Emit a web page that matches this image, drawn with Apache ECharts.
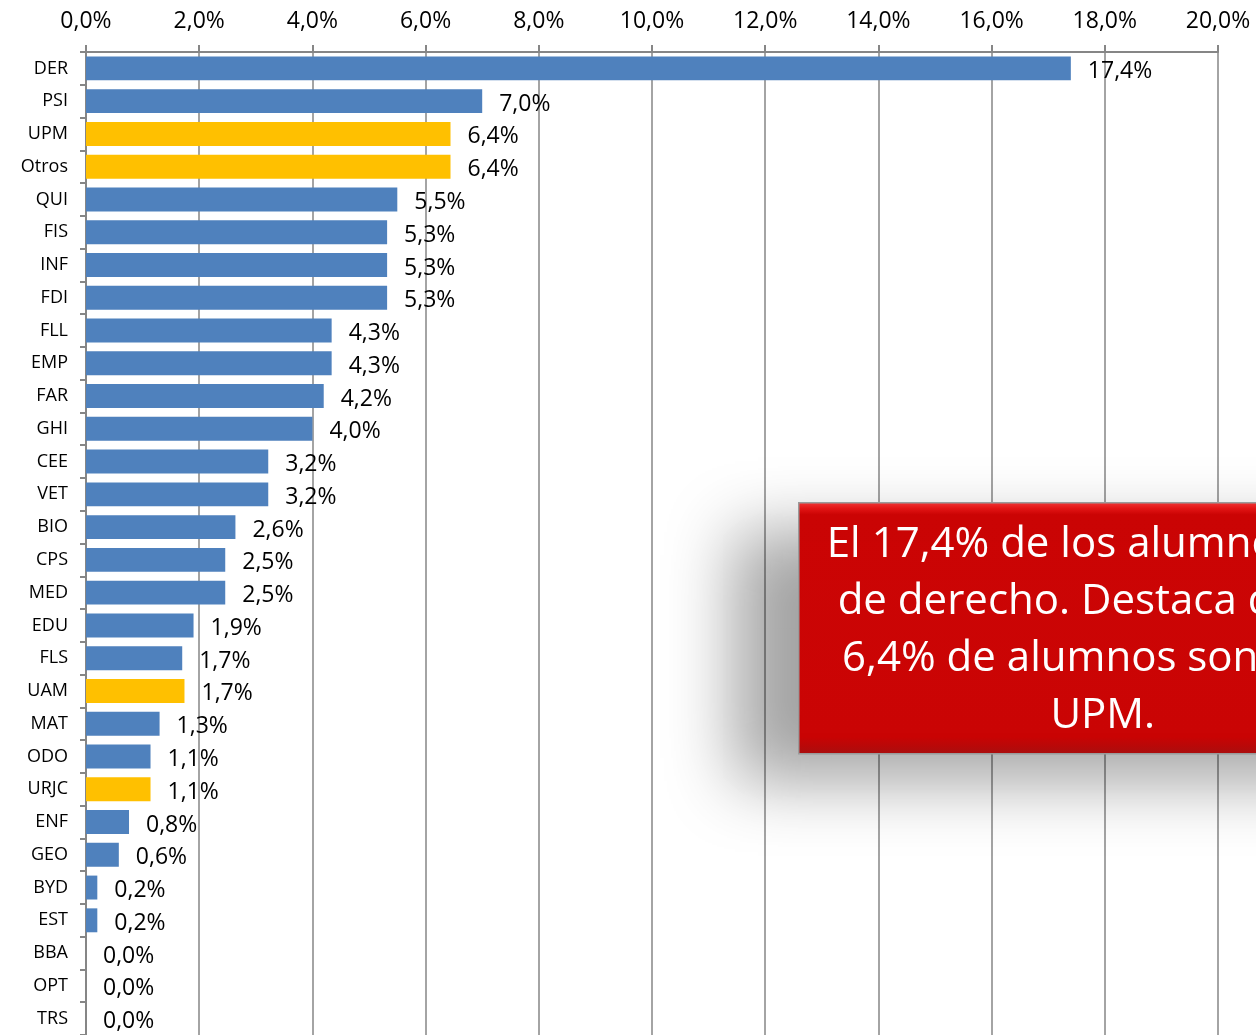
<!DOCTYPE html>
<html>
<head>
<meta charset="utf-8">
<script src="https://cdn.jsdelivr.net/npm/echarts@6/dist/echarts.min.js"></script>
<style>
html,body{margin:0;padding:0;background:#fff;}
#c{width:1256px;height:1035px;}
</style>
</head>
<body>
<div id="c"></div>
<script>
const categories = ['DER','PSI','UPM','Otros','QUI','FIS','INF','FDI','FLL','EMP','FAR','GHI','CEE','VET','BIO','CPS','MED','EDU','FLS','UAM','MAT','ODO','URJC','ENF','GEO','BYD','EST','BBA','OPT','TRS'];
const values = [17.4,7.0,6.44,6.44,5.5,5.32,5.32,5.32,4.34,4.34,4.2,4.0,3.22,3.22,2.64,2.46,2.46,1.9,1.7,1.74,1.3,1.14,1.14,0.76,0.58,0.2,0.2,0,0,0];
const highlighted = ['UPM','Otros','UAM','URJC'];
const xTicks = {min:0, max:20, interval:2};
const calloutText = 'El 17,4% de los alumnos son\nde derecho. Destaca que el\n6,4% de alumnos son de la\nUPM.';

const FONT = '"Open Sans", sans-serif';
const fmt = v => v.toFixed(1).replace('.', ',') + '%';

const chart = echarts.init(document.getElementById('c'), null, {renderer:'canvas'});
chart.setOption({
  animation:false,
  backgroundColor:'#ffffff',
  grid:{left:86, right:38, top:52, height:987, containLabel:false},
  xAxis:{
    type:'value', position:'top', min:xTicks.min, max:xTicks.max, interval:xTicks.interval,
    axisLine:{show:true, lineStyle:{color:'#868686', width:2}},
    axisTick:{show:true, length:7, lineStyle:{color:'#868686', width:2}},
    splitLine:{show:true, lineStyle:{color:'#868686', width:1.5}},
    axisLabel:{formatter:fmt, fontFamily:FONT, fontSize:23, color:'#000', margin:19}
  },
  yAxis:{
    type:'category', inverse:true, data:categories,
    axisLine:{show:true, lineStyle:{color:'#868686', width:2}},
    axisTick:{show:true, length:6, lineStyle:{color:'#868686', width:2}},
    axisLabel:{fontFamily:FONT, fontSize:18, color:'#000', margin:18}
  },
  series:[{
    type:'bar',
    data:values.map((v,i)=>({value:v, itemStyle:{color: highlighted.includes(categories[i]) ? '#FFC000' : '#4F81BD'}})),
    barCategoryGap:'27%',
    label:{show:true, position:'right', distance:17, offset:[0,3], formatter:p=>fmt(p.value), fontFamily:FONT, fontSize:23, color:'#000'}
  }],
  graphic:[{
    type:'group', left:798, top:502, zlevel:1, z:100,
    children:[
      {type:'rect', z:100, zlevel:1, shape:{x:0, y:0, width:608, height:251},
       style:{
         fill:new echarts.graphic.LinearGradient(0,0,0,1,[{offset:0,color:'#F23A3A'},{offset:0.025,color:'#E41616'},{offset:0.05,color:'#CC0505'},{offset:0.93,color:'#CA0404'},{offset:0.97,color:'#B80A0A'},{offset:1,color:'#A81010'}]),
         stroke:'#9A9A9A', lineWidth:1.5,
         shadowBlur:65, shadowColor:'rgba(0,0,0,0.36)', shadowOffsetX:-65, shadowOffsetY:28
       }},
      {type:'text', z:101, zlevel:1, x:304, y:14,
       style:{text:calloutText, fill:'#fff', font:'42px "Open Sans", sans-serif', textAlign:'center', textVerticalAlign:'top', lineHeight:57}}
    ]
  }]
});
</script>
</body>
</html>
